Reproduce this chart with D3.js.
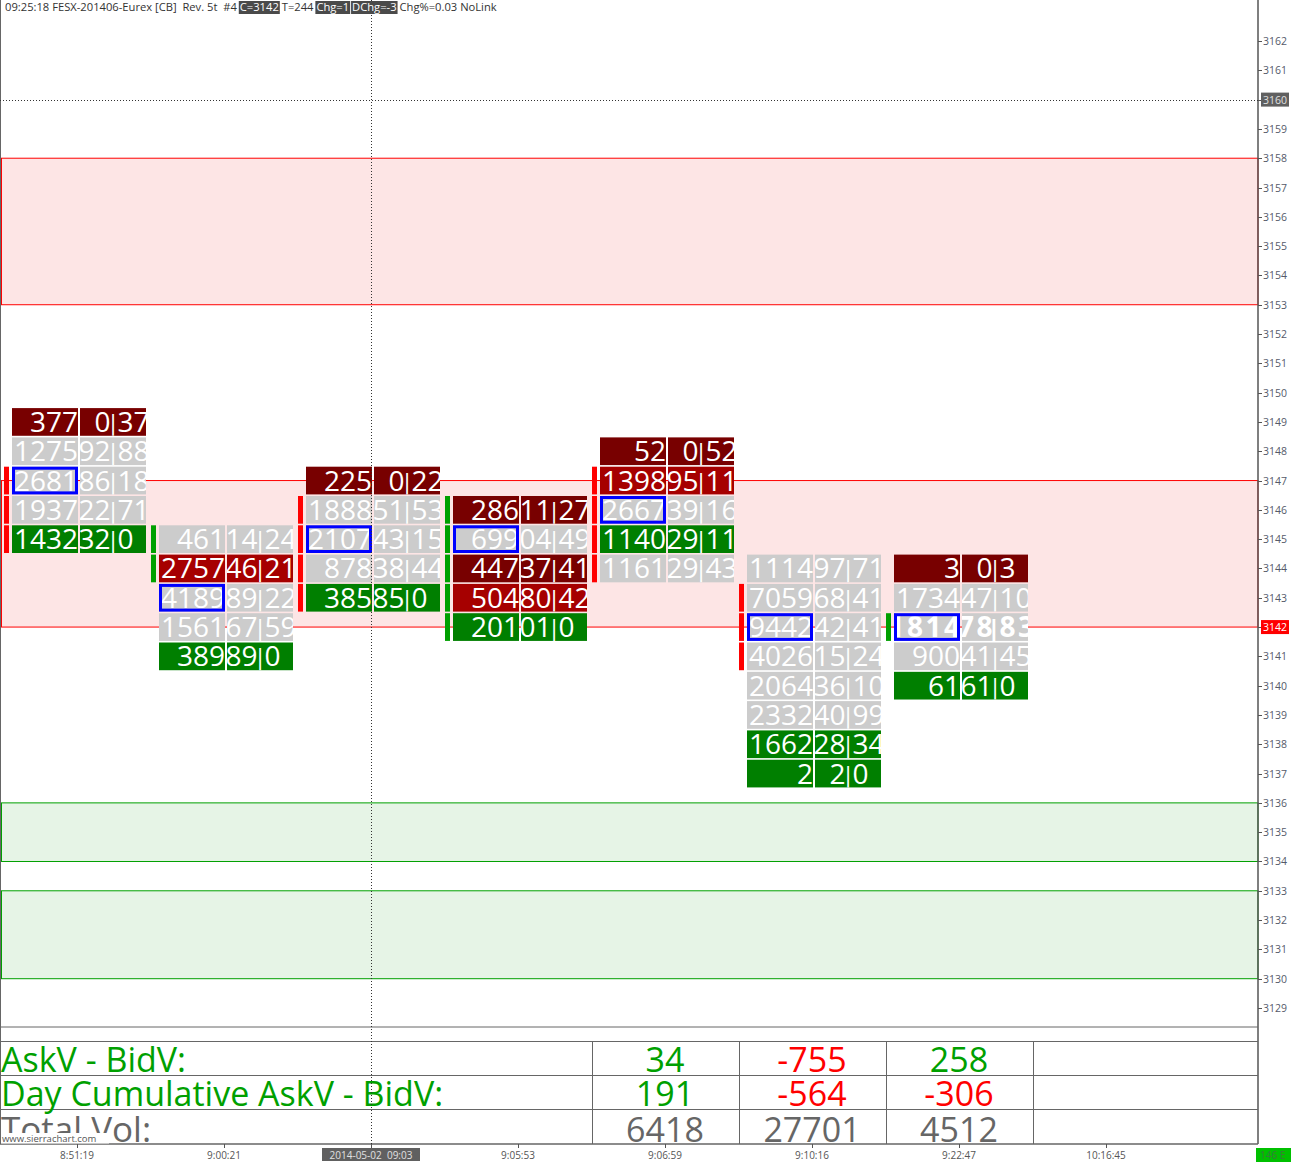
<!DOCTYPE html>
<html lang="en">
<head>
<meta charset="UTF-8">
<title>FESX-201406 footprint</title>
<style>
body { margin: 0; background: #fff; }
svg text { font-family: 'Open Sans', sans-serif; }
</style>
</head>
<body>
<svg id="chart" width="1291" height="1162"></svg>
<script src="https://d3js.org/d3.v7.min.js"></script>
<script>
/* global d3 */

// ---- data ----
var xLabels = ["8:51:19", "9:00:21", null, "9:05:53", "9:06:59", "9:10:16", "9:22:47", "10:16:45"];
var cursorLabel = "2014-05-02  09:03";
var cursorBar = 2;
var cursorPrice = 3160;
var lastPrice = 3142;

var barHigh = [3149, 3145, 3147, 3146, 3148, 3144, 3144];
var barVol = [
  [377, 1275, 2681, 1937, 1432],
  [461, 2757, 4189, 1561, 389],
  [225, 1888, 2107, 878, 385],
  [286, 699, 447, 504, 201],
  [52, 1398, 2667, 1140, 1161],
  [1114, 7059, 9442, 4026, 2064, 2332, 1662, 2],
  [3, 1734, 1814, 900, 61]
];
var barBid = [
  [0, 392, 786, 1222, 1432],
  [214, 646, 1989, 967, 389],
  [0, 1351, 543, 438, 385],
  [11, 204, 37, 80, 201],
  [0, 295, 1039, 29, 729],
  [397, 2868, 5342, 1615, 1036, 1340, 1628, 2],
  [0, 647, 978, 441, 61]
];
var barAsk = [
  [377, 883, 1895, 715, 0],
  [247, 2111, 2200, 594, 0],
  [225, 537, 1564, 440, 0],
  [275, 495, 410, 424, 0],
  [52, 1103, 1628, 1111, 432],
  [717, 4191, 4100, 2411, 1028, 992, 34, 0],
  [3, 1087, 836, 459, 0]
];
// M = maroon, R = red, G = gray, N = green
var barShade = [
  "MGGGN",
  "GRGGN",
  "MGGGN",
  "MGMRN",
  "MRGNG",
  "GGGGGGNN",
  "MGGGN"
];
var pocRow = [2, 2, 2, 1, 2, 2, 2];
var markerColor = ["red", "green", "red", "green", "red", "red", "green"];
var markerRows = [[2, 3, 4], [0, 1], [1, 2, 3, 4], [0, 1, 2, 3, 4], [1, 2, 3, 4], [1, 2, 3], [2]];

var zones = [
  {hi: 3158, lo: 3153, kind: "red"},
  {hi: 3147, lo: 3142, kind: "red"},
  {hi: 3136, lo: 3134, kind: "green"},
  {hi: 3133, lo: 3130, kind: "green"}
];

var tableBars = [4, 5, 6];
var tableRows = ["AskV - BidV:", "Day Cumulative AskV - BidV:", "Total Vol:"];
var deltaVals = [34, -755, 258];
var cumDeltaVals = [191, -564, -306];
var totalVolVals = [6418, 27701, 4512];

var header = [
  {t: "09:25:18 FESX-201406-Eurex [CB]  Rev. 5t  #4 ", box: false},
  {t: "C=3142", box: true},
  {t: " T=244 ", box: false},
  {t: "Chg=1", box: true},
  {t: " ", box: false},
  {t: "DChg=-3", box: true},
  {t: " Chg%=0.03 NoLink", box: false}
];

// ---- layout ----
var W = 1291, H = 1162;
var plotRight = 1258;
var plotBottom = 1144;
var shadeColor = {M: "#780000", R: "#a60000", G: "#cccccc", N: "#007f00"};
var mColor = {red: "#ff0000", green: "#00a000"};

var svg = d3.select("#chart");
var y = d3.scaleLinear().domain([3162, 3129]).range([41, 1008]);
var x = d3.scaleLinear().domain([0, 7]).range([79, 79 + 7 * 147]);
var rowH = Math.abs(y(1) - y(0));
var defs = svg.append("defs");

svg.append("rect").attr("width", W).attr("height", H).attr("fill", "#fff");

// zones
svg.append("g").selectAll("rect").data(zones).join("rect")
  .attr("x", 1.5).attr("width", plotRight - 1.5)
  .attr("y", function (d) { return y(d.hi); })
  .attr("height", function (d) { return y(d.lo) - y(d.hi); })
  .attr("fill", function (d) { return d.kind === "red" ? "#fde5e5" : "#e6f4e6"; })
  .attr("stroke", function (d) { return d.kind === "red" ? "#ff0000" : "#00a000"; })
  .attr("stroke-width", 1);

// footprint bars
var bars = svg.append("g");
barVol.forEach(function (vols, b) {
  var c = x(b);
  var g = bars.append("g");
  vols.forEach(function (v, r) {
    var p = barHigh[b] - r;
    var top = y(p) - rowH / 2 + 0.8;
    var h = rowH - 1.6;
    var fill = shadeColor[barShade[b][r]];
    var bold = (b === barVol.length - 1 && p === lastPrice);
    var id = "c" + b + "_" + r;
    defs.append("clipPath").attr("id", id + "L").append("rect")
      .attr("x", c - 67).attr("y", top).attr("width", 66).attr("height", h);
    defs.append("clipPath").attr("id", id + "R").append("rect")
      .attr("x", c + 1).attr("y", top).attr("width", 66).attr("height", h);

    g.append("rect").attr("x", c - 67).attr("y", top).attr("width", 66).attr("height", h).attr("fill", fill);
    g.append("rect").attr("x", c + 1).attr("y", top).attr("width", 66).attr("height", h).attr("fill", fill);

    var base = y(p) + 10;
    var fw = bold ? 700 : 400;
    var ls = bold ? 2.5 : 0;
    g.append("text").attr("clip-path", "url(#" + id + "L)")
      .attr("x", c - 1 + ls).attr("y", base).attr("text-anchor", "end")
      .attr("font-size", 28).attr("font-weight", fw).attr("letter-spacing", ls)
      .attr("fill", "#fff").text(v);
    var sep = c + 34;
    var gr = g.append("g").attr("clip-path", "url(#" + id + "R)")
      .attr("font-size", 28).attr("font-weight", fw).attr("letter-spacing", ls).attr("fill", "#fff");
    gr.append("text").attr("x", sep - 2.5 + ls).attr("y", base).attr("text-anchor", "end").text(barBid[b][r]);
    gr.append("text").attr("x", sep).attr("y", base).attr("text-anchor", "middle").attr("font-size", 24).text("|");
    gr.append("text").attr("x", sep + 4.5).attr("y", base).attr("text-anchor", "start").text(barAsk[b][r]);
  });

  // side markers
  g.selectAll(".mk").data(markerRows[b]).join("rect")
    .attr("x", c - 75).attr("width", 5)
    .attr("y", function (r) { return y(barHigh[b] - r) - rowH / 2 + 0.8; })
    .attr("height", rowH - 1.6)
    .attr("fill", mColor[markerColor[b]]);

  // point of control box
  var pp = barHigh[b] - pocRow[b];
  g.append("rect")
    .attr("x", c - 67 + 1.5).attr("y", y(pp) - rowH / 2 + 0.8 + 1.5)
    .attr("width", 66 - 3).attr("height", rowH - 1.6 - 3)
    .attr("fill", "none").attr("stroke", "#0000ff").attr("stroke-width", 3);
});

// left border
svg.append("line").attr("x1", 0.5).attr("x2", 0.5).attr("y1", 0).attr("y2", plotBottom)
  .attr("stroke", "#666").attr("stroke-width", 1);

// price axis
svg.append("line").attr("x1", plotRight).attr("x2", plotRight).attr("y1", 0).attr("y2", plotBottom)
  .attr("stroke", "#555").attr("stroke-width", 1.5);
var prices = d3.range(3129, 3163);
var pa = svg.append("g");
pa.selectAll("line").data(prices).join("line")
  .attr("x1", plotRight).attr("x2", plotRight + 4)
  .attr("y1", function (d) { return Math.round(y(d)) + 0.5; })
  .attr("y2", function (d) { return Math.round(y(d)) + 0.5; })
  .attr("stroke", "#555");
pa.selectAll("rect").data([cursorPrice, lastPrice]).join("rect")
  .attr("x", plotRight + 3).attr("y", function (d) { return y(d) - 7; })
  .attr("width", 28).attr("height", 14)
  .attr("fill", function (d) { return d === lastPrice ? "#ff0000" : "#606060"; });
pa.selectAll("text").data(prices).join("text")
  .attr("x", plotRight + 5).attr("y", function (d) { return y(d) + 4; })
  .attr("font-size", 10.5)
  .attr("fill", function (d) { return d === lastPrice ? "#fff" : d === cursorPrice ? "#e0e0e0" : "#555a6a"; })
  .text(function (d) { return d; });

// crosshair
svg.append("line").attr("x1", 0).attr("x2", plotRight).attr("y1", Math.round(y(cursorPrice)) + 0.5).attr("y2", Math.round(y(cursorPrice)) + 0.5)
  .attr("stroke", "#333").attr("stroke-dasharray", "1,2");

// table
var tb = svg.append("g");
var rowLines = [1027, 1041.5, 1075.5, 1109.5, plotBottom];
tb.selectAll("line.h").data(rowLines).join("line").attr("class", "h")
  .attr("x1", 0).attr("x2", plotRight)
  .attr("y1", function (d) { return d; }).attr("y2", function (d) { return d; })
  .attr("stroke", "#666").attr("stroke-width", function (d, i) { return i === 4 ? 1.5 : 1; });
var colEdges = tableBars.concat([tableBars[tableBars.length - 1] + 1]).map(function (b) { return x(b) - 75; });
tb.selectAll("line.v").data(colEdges).join("line").attr("class", "v")
  .attr("x1", function (d) { return Math.round(d) + 0.5; }).attr("x2", function (d) { return Math.round(d) + 0.5; })
  .attr("y1", 1041.5).attr("y2", plotBottom)
  .attr("stroke", "#666");

defs.append("clipPath").attr("id", "tclip").append("rect")
  .attr("x", 0).attr("y", 1042).attr("width", plotRight).attr("height", plotBottom - 1042);
var tt = tb.append("g").attr("clip-path", "url(#tclip)").attr("font-size", 34);
var rowBase = [1072, 1106, 1142];
tt.selectAll("text.lbl").data(tableRows).join("text").attr("class", "lbl")
  .attr("x", 1).attr("y", function (d, i) { return rowBase[i]; })
  .attr("fill", function (d, i) { return i < 2 ? "#00a000" : "#666"; })
  .attr("font-size", function (d, i) { return i < 2 ? 34 : 35; })
  .text(function (d) { return d; });
[deltaVals, cumDeltaVals, totalVolVals].forEach(function (vals, ri) {
  tt.selectAll("text.v" + ri).data(vals).join("text").attr("class", "v" + ri)
    .attr("x", function (d, i) { return x(tableBars[i]) - 2; })
    .attr("y", rowBase[ri])
    .attr("text-anchor", "middle")
    .attr("fill", function (d) { return ri === 2 ? "#666" : d < 0 ? "#ff0000" : "#00a000"; })
    .text(function (d) { return d; });
});
tb.append("rect").attr("x", 1).attr("y", 1133).attr("width", 108).attr("height", 10.5).attr("fill", "#fff");
tb.append("text").attr("x", 2).attr("y", 1142).attr("font-size", 9.5).attr("fill", "#555").text("www.sierrachart.com");

// vertical crosshair
svg.append("line").attr("x1", Math.round(x(cursorBar)) - 1.5).attr("x2", Math.round(x(cursorBar)) - 1.5)
  .attr("y1", 0).attr("y2", plotBottom)
  .attr("stroke", "#333").attr("stroke-dasharray", "1,2");

// time axis
var ta = svg.append("g");
ta.selectAll("line").data(xLabels).join("line")
  .attr("x1", function (d, i) { return Math.round(x(i)) - 1.5; })
  .attr("x2", function (d, i) { return Math.round(x(i)) - 1.5; })
  .attr("y1", plotBottom).attr("y2", plotBottom + 4)
  .attr("stroke", "#555");
ta.selectAll("text").data(xLabels.filter(function (d) { return d; })).join("text")
  .attr("x", function (d) { return x(xLabels.indexOf(d)) - 2; })
  .attr("y", 1159).attr("text-anchor", "middle")
  .attr("font-size", 10).attr("fill", "#555")
  .text(function (d) { return d; });
ta.append("rect").attr("x", x(cursorBar) - 51).attr("y", 1148).attr("width", 98).attr("height", 13).attr("fill", "#606060");
ta.append("text").attr("x", x(cursorBar) - 2).attr("y", 1158.5).attr("text-anchor", "middle")
  .attr("font-size", 10).attr("fill", "#e0e0e0").attr("xml:space", "preserve").text(cursorLabel);
ta.append("rect").attr("x", 1256).attr("y", 1148).attr("width", 35).attr("height", 14).attr("fill", "#00c000");
ta.append("text").attr("x", 1260).attr("y", 1159).attr("font-size", 10).attr("fill", "#3a7a3a").text("146 E");

// header line
var hd = svg.append("g").attr("font-size", 11.2);
var hx = 5;
header.forEach(function (s) {
  var t = hd.append("text").attr("x", hx).attr("y", 11).attr("xml:space", "preserve")
    .attr("fill", s.box ? "#fff" : "#333").text(s.t);
  var w = t.node().getComputedTextLength();
  if (s.box) {
    hd.insert("rect", "text").attr("x", hx - 1).attr("y", 1).attr("width", w + 2).attr("height", 13).attr("fill", "#4a4a4a");
  }
  hx += w;
});
</script>
</body>
</html>
